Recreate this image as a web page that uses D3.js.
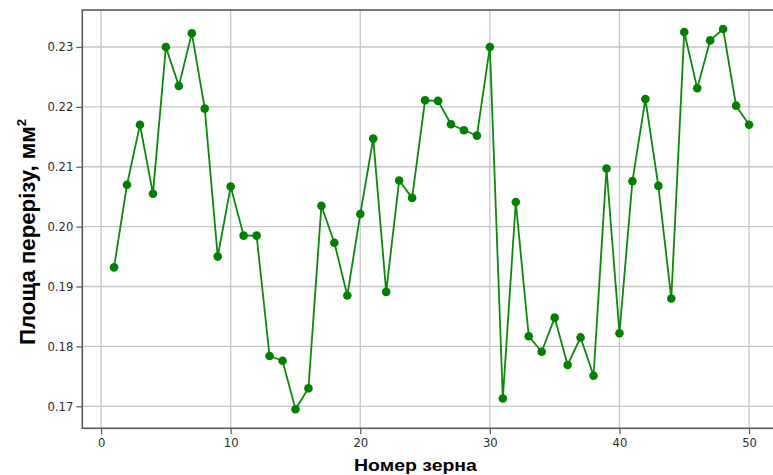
<!DOCTYPE html>
<html>
<head>
<meta charset="utf-8">
<script src="https://cdn.jsdelivr.net/npm/d3@7/dist/d3.min.js"></script>
<style>
  html, body { margin: 0; padding: 0; background: #fff; }
  svg { display: block; }
</style>
</head>
<body>
<svg id="chart" width="773" height="475"></svg>
<script>
// Grain numbers and their cross-section areas (mm²)
const grainNo = d3.range(1, 51);
const area = [
  0.1932, 0.2070, 0.2170, 0.2055, 0.2300, 0.2235, 0.2323, 0.2197, 0.1950, 0.2067,
  0.1985, 0.1985, 0.1784, 0.1776, 0.1695, 0.1730, 0.2035, 0.1973, 0.1885, 0.2021,
  0.2147, 0.1891, 0.2077, 0.2048, 0.2211, 0.2210, 0.2171, 0.2161, 0.2152, 0.2300,
  0.1713, 0.2041, 0.1817, 0.1791, 0.1848, 0.1769, 0.1815, 0.1751, 0.2097, 0.1822,
  0.2076, 0.2213, 0.2068, 0.1880, 0.2325, 0.2231, 0.2311, 0.2330, 0.2202, 0.2170
];
const xTicks = [0, 10, 20, 30, 40, 50];
const yTicks = [0.17, 0.18, 0.19, 0.20, 0.21, 0.22, 0.23];
const xTitle = "Номер зерна";
const yTitle = "Площа перерізу, мм";

const svg = d3.select("#chart");
const plot = { left: 82.3, top: 10, right: 780.8, bottom: 428.3 };

// axis limits with a 5% margin around the data
function padded(ext) {
  const m = (ext[1] - ext[0]) * 0.05;
  return [ext[0] - m, ext[1] + m];
}
const x = d3.scaleLinear().domain(padded(d3.extent(grainNo))).range([plot.left, plot.right]);
const y = d3.scaleLinear().domain(padded(d3.extent(area))).range([plot.bottom, plot.top]);

const gridColor = "#c6c6c6";
const spineColor = "#5a5a5a";
const tickColor = "#2a2a2a";

// grid
const grid = svg.append("g");
grid.selectAll("line.gx").data(xTicks).join("line")
  .attr("x1", d => x(d)).attr("x2", d => x(d))
  .attr("y1", plot.top).attr("y2", plot.bottom)
  .attr("stroke", gridColor).attr("stroke-width", 1.3);
grid.selectAll("line.gy").data(yTicks).join("line")
  .attr("x1", plot.left).attr("x2", plot.right)
  .attr("y1", d => y(d)).attr("y2", d => y(d))
  .attr("stroke", gridColor).attr("stroke-width", 1.3);

// axes
const xAxis = d3.axisBottom(x).tickValues(xTicks).tickFormat(d3.format("d"))
  .tickSize(6).tickPadding(4);
const yAxis = d3.axisLeft(y).tickValues(yTicks).tickFormat(d3.format(".2f"))
  .tickSize(6).tickPadding(3);

const gx = svg.append("g").attr("transform", `translate(0,${plot.bottom})`).call(xAxis);
const gy = svg.append("g").attr("transform", `translate(${plot.left},0)`).call(yAxis);
[gx, gy].forEach(g => {
  g.select(".domain").remove();
  g.selectAll(".tick line").attr("stroke", spineColor).attr("stroke-width", 1.2);
  g.selectAll(".tick text")
    .attr("fill", tickColor)
    .attr("font-family", "DejaVu Sans, sans-serif")
    .attr("font-size", 11.6);
});

// frame
svg.append("rect")
  .attr("x", plot.left).attr("y", plot.top)
  .attr("width", plot.right - plot.left).attr("height", plot.bottom - plot.top)
  .attr("fill", "none").attr("stroke", spineColor).attr("stroke-width", 1.6);

// series
const pts = grainNo.map((g, i) => [g, area[i]]);
svg.append("path")
  .datum(pts)
  .attr("d", d3.line().x(d => x(d[0])).y(d => y(d[1])))
  .attr("fill", "none")
  .attr("stroke", "#0c880c")
  .attr("stroke-width", 1.8)
  .attr("stroke-linejoin", "round");
svg.append("g").selectAll("circle").data(pts).join("circle")
  .attr("cx", d => x(d[0])).attr("cy", d => y(d[1]))
  .attr("r", 4.3)
  .attr("fill", "#008000");

// axis titles, stretched to their drawn lengths
function fitText(sel, len) {
  const w = sel.node().getComputedTextLength();
  return len / w;
}

const xt = svg.append("text")
  .attr("font-family", "Liberation Sans, Arial, sans-serif")
  .attr("font-weight", "bold")
  .attr("font-size", 16.5)
  .attr("fill", "#000")
  .attr("text-anchor", "middle")
  .text(xTitle);
const sx = fitText(xt, 123);
xt.attr("transform", `translate(415.5,470.5) scale(${sx},1)`);

const yt = svg.append("text")
  .attr("font-family", "Liberation Sans, Arial, sans-serif")
  .attr("font-weight", "bold")
  .attr("font-size", 22)
  .attr("fill", "#000")
  .attr("text-anchor", "middle");
yt.append("tspan").text(yTitle);
yt.append("tspan").text("2").attr("font-size", 13).attr("dy", -8.5);
const sy = fitText(yt, 226);
yt.attr("transform", `translate(34.5,232) rotate(-90) scale(${sy},1)`);
</script>
</body>
</html>
